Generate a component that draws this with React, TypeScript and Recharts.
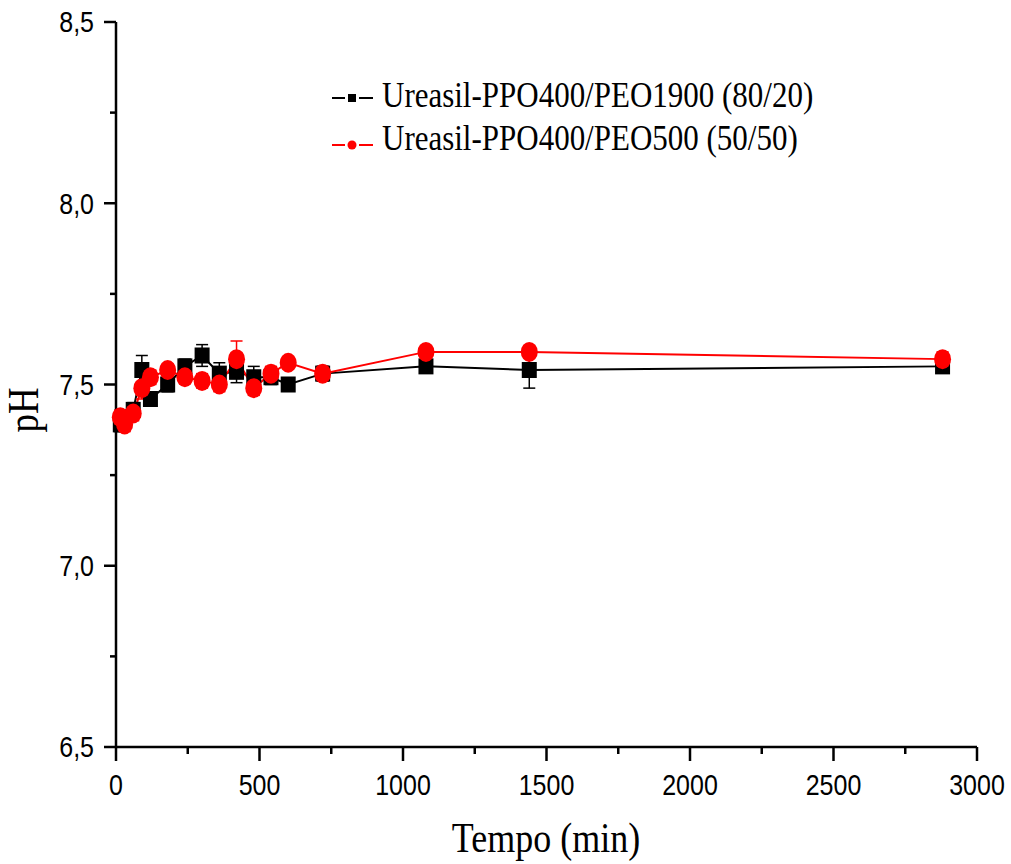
import React from 'react';
import { LineChart, Line, XAxis, YAxis, ErrorBar, Customized } from 'recharts';

const times = [15, 30, 60, 90, 120, 180, 240, 300, 360, 420, 480, 540, 600, 720, 1080, 1440, 2880];
const phBlack = [7.39, 7.4, 7.43, 7.54, 7.46, 7.5, 7.55, 7.58, 7.53, 7.535, 7.52, 7.52, 7.5, 7.53, 7.55, 7.54, 7.55];
const errBlack = [0.02, 0.02, 0.02, 0.04, 0.02, 0.02, 0.02, 0.03, 0.03, 0.03, 0.03, 0.02, 0.01, 0.02, 0.01, 0.05, 0.01];
const phRed = [7.41, 7.39, 7.42, 7.49, 7.52, 7.54, 7.52, 7.51, 7.5, 7.57, 7.49, 7.53, 7.56, 7.53, 7.59, 7.59, 7.57];
const errRed = [0.02, 0.02, 0.02, 0.03, 0.02, 0.01, 0.01, 0.02, 0.02, 0.05, 0.02, 0.02, 0.01, 0.02, 0.01, 0.01, 0.02];

const xTicks = [0, 250, 500, 750, 1000, 1250, 1500, 1750, 2000, 2250, 2500, 2750, 3000];
const yTicks = [6.5, 6.75, 7.0, 7.25, 7.5, 7.75, 8.0, 8.25, 8.5];
const seriesNames = ['Ureasil-PPO400/PEO1900 (80/20)', 'Ureasil-PPO400/PEO500 (50/50)'];
const xTitle = 'Tempo (min)';
const yTitle = 'pH';

const data = times.map((t, i) => ({
  t,
  black: phBlack[i],
  eBlack: errBlack[i],
  red: phRed[i],
  eRed: errRed[i],
}));

const SERIF = '"Liberation Serif", "Times New Roman", serif';
const SANS = '"Liberation Sans", Arial, sans-serif';

const XTick = (props: any) => {
  const { x, y, payload } = props;
  const v = payload.value;
  const major = v % 500 === 0;
  return (
    <g>
      <line x1={x} y1={y} x2={x} y2={y + (major ? 14 : 7)} stroke="#000" strokeWidth={2.5} />
      {major && (
        <g transform={`translate(${x},${y + 48}) scale(1,1.15)`}>
          <text x={0} y={0} textAnchor="middle" fontFamily={SANS} fontSize={25} fill="#000">
            {String(v)}
          </text>
        </g>
      )}
    </g>
  );
};

const YTick = (props: any) => {
  const { x, y, payload } = props;
  const v = payload.value;
  const major = Math.abs(v * 2 - Math.round(v * 2)) < 1e-6;
  return (
    <g>
      <line x1={x} y1={y} x2={x - (major ? 12 : 6)} y2={y} stroke="#000" strokeWidth={2.5} />
      {major && (
        <g transform={`translate(${x - 22},${y}) scale(1,1.15)`}>
          <text x={0} y={9} textAnchor="end" fontFamily={SANS} fontSize={25} fill="#000">
            {v.toFixed(1).replace('.', ',')}
          </text>
        </g>
      )}
    </g>
  );
};

const SquareDot = (props: any) => {
  const { cx, cy, index } = props;
  if (cx == null || cy == null) return <g key={`sq-${index}`} />;
  return <rect key={`sq-${index}`} x={cx - 7.5} y={cy - 8} width={15} height={16} fill="#000" />;
};

const CircleDot = (props: any) => {
  const { cx, cy, index } = props;
  if (cx == null || cy == null) return <g key={`ci-${index}`} />;
  return <ellipse key={`ci-${index}`} cx={cx} cy={cy} rx={8.5} ry={10} fill="#ff0000" />;
};

const Overlay = () => (
  <g>
    {/* legend */}
    <g>
      <line x1={332} y1={98} x2={345} y2={98} stroke="#000" strokeWidth={2} />
      <rect x={348} y={94} width={8} height={8} fill="#000" />
      <line x1={359} y1={98} x2={373} y2={98} stroke="#000" strokeWidth={2} />
      <g transform="translate(382,106.5) scale(1,1.18)">
        <text x={0} y={0} fontFamily={SERIF} fontSize={31} fill="#000">{seriesNames[0]}</text>
      </g>
      <line x1={332} y1={145} x2={345} y2={145} stroke="#ff0000" strokeWidth={2} />
      <circle cx={352} cy={145} r={4.5} fill="#ff0000" />
      <line x1={359} y1={145} x2={373} y2={145} stroke="#ff0000" strokeWidth={2} />
      <g transform="translate(382,150) scale(1,1.18)">
        <text x={0} y={0} fontFamily={SERIF} fontSize={31} fill="#000">{seriesNames[1]}</text>
      </g>
    </g>
    {/* axis titles */}
    <g transform="translate(546,852) scale(1,1.18)">
      <text x={0} y={0} textAnchor="middle" fontFamily={SERIF} fontSize={36} fill="#000">{xTitle}</text>
    </g>
    <g transform="translate(38,410) rotate(-90) scale(1,1.18)">
      <text x={0} y={0} textAnchor="middle" fontFamily={SERIF} fontSize={37} fill="#000">{yTitle}</text>
    </g>
  </g>
);

export default function App() {
  return (
    <div style={{ position: 'absolute', left: 0, top: 0, background: '#fff' }}>
      <LineChart
        width={1005}
        height={864}
        data={data}
        margin={{ top: 22, right: 28, bottom: 57, left: 16 }}
      >
        <XAxis
          dataKey="t"
          type="number"
          domain={[0, 3000]}
          ticks={xTicks}
          interval={0}
          tick={XTick}
          tickLine={false}
          tickSize={0}
          tickMargin={0}
          height={60}
          axisLine={{ stroke: '#000', strokeWidth: 2.5 }}
        />
        <YAxis
          type="number"
          domain={[6.5, 8.5]}
          ticks={yTicks}
          interval={0}
          tick={YTick}
          tickLine={false}
          tickSize={0}
          tickMargin={0}
          width={100}
          axisLine={{ stroke: '#000', strokeWidth: 2.5 }}
        />
        <Line
          type="linear"
          dataKey="black"
          stroke="#000"
          strokeWidth={2}
          dot={SquareDot}
          activeDot={false}
          isAnimationActive={false}
          legendType="none"
        />
        <Line
          type="linear"
          dataKey="red"
          stroke="#ff0000"
          strokeWidth={2}
          dot={CircleDot}
          activeDot={false}
          isAnimationActive={false}
          legendType="none"
        />
        <Line
          type="linear"
          dataKey="red"
          stroke="none"
          dot={false}
          activeDot={false}
          isAnimationActive={false}
          legendType="none"
        >
          <ErrorBar dataKey="eRed" width={6} stroke="#ff0000" strokeWidth={1.5} direction="y" />
        </Line>
        <Line
          type="linear"
          dataKey="black"
          stroke="none"
          dot={false}
          activeDot={false}
          isAnimationActive={false}
          legendType="none"
        >
          <ErrorBar dataKey="eBlack" width={6} stroke="#000" strokeWidth={1.5} direction="y" />
        </Line>
        <Customized component={Overlay} />
      </LineChart>
    </div>
  );
}
